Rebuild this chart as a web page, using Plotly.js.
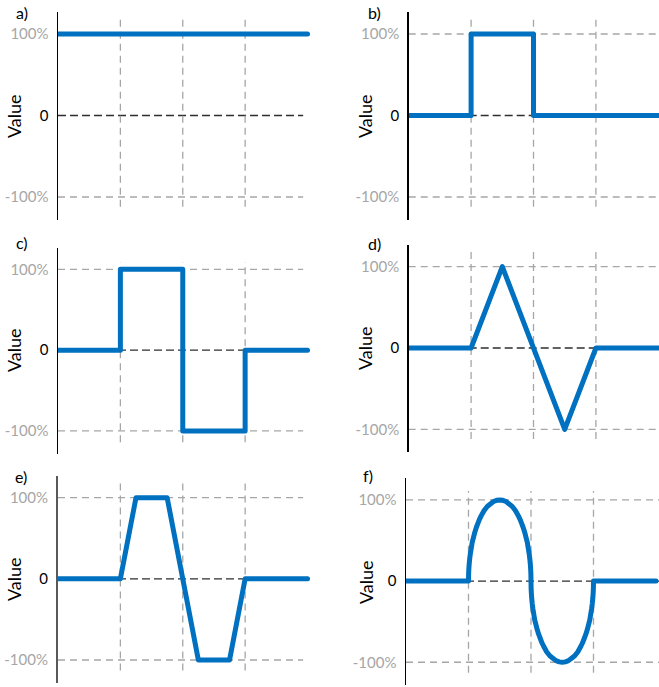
<!DOCTYPE html>
<html>
<head>
<meta charset="utf-8">
<script src="https://cdn.plot.ly/plotly-3.0.1.min.js"></script>
<style>
html,body{margin:0;padding:0;background:#fff;}
#chart{width:659px;height:687px;}
path.js-line{stroke-linejoin:round !important;stroke-linecap:round !important;}
</style>
</head>
<body>
<div id="chart"></div>
<script>
// ---- Data ----
const panelLabels = ["a)", "b)", "c)", "d)", "e)", "f)"];
const yTickVals = [-100, 0, 100];
const yTickText = ["-100%", "0", "100%"];
const axisTitle = "Value";
const gridX = [1, 2, 3];

const aX = [0, 4];
const aY = [100, 100];

const bX = [0, 1, 1, 2, 2, 4];
const bY = [0, 0, 100, 100, 0, 0];

const cX = [0, 1, 1, 2, 2, 3, 3, 4];
const cY = [0, 0, 100, 100, -100, -100, 0, 0];

const dX = [0, 1, 1.5, 2.5, 3, 4];
const dY = [0, 0, 100, -100, 0, 0];

const eX = [0, 1, 1.25, 1.75, 2.25, 2.75, 3, 4];
const eY = [0, 0, 100, 100, -100, -100, 0, 0];

const fX = [0,
  1, 1.002, 1.005, 1.01, 1.02, 1.03, 1.045, 1.06, 1.08, 1.1,
  1.125, 1.15, 1.175, 1.2, 1.25, 1.3, 1.35, 1.4, 1.45, 1.5,
  1.55, 1.6, 1.65, 1.7, 1.75, 1.8, 1.825, 1.85, 1.875, 1.9,
  1.92, 1.94, 1.955, 1.97, 1.98, 1.99, 1.995, 1.998, 2,
  2.002, 2.005, 2.01, 2.02, 2.03, 2.045, 2.06, 2.08, 2.1,
  2.125, 2.15, 2.175, 2.2, 2.25, 2.3, 2.35, 2.4, 2.45, 2.5,
  2.55, 2.6, 2.65, 2.7, 2.75, 2.8, 2.825, 2.85, 2.875, 2.9,
  2.92, 2.94, 2.955, 2.97, 2.98, 2.99, 2.995, 2.998, 3,
  4];
const fY = [0,
  0, 9, 14, 20, 28, 34, 41, 48, 54, 60,
  66, 71, 76, 80, 87, 92, 95, 98, 99.5, 100,
  99.5, 98, 95, 92, 87, 80, 76, 71, 66, 60,
  54, 48, 41, 34, 28, 20, 14, 9, 0,
  -9, -14, -20, -28, -34, -41, -48, -54, -60,
  -66, -71, -76, -80, -87, -92, -95, -98, -99.5, -100,
  -99.5, -98, -95, -92, -87, -80, -76, -71, -66, -60,
  -54, -48, -41, -34, -28, -20, -14, -9, 0,
  0];

const seriesX = [aX, bX, cX, dX, eX, fX];
const seriesY = [aY, bY, cY, dY, eY, fY];

// ---- Layout geometry (pixels) ----
const W = 659, H = 687;
const panels = [
  {ax: 58,    right: 320, xmax: 4.2,   hEnd: 3.93,  yTop: 12,    yBot: 219.8, vTop: 118, vBot: -112, title: [14, 116],  lab: [22.5, 13],  line: "#000000", lw: 1.5},
  {ax: 408.7, right: 659, xmax: 4.011, hEnd: 4.011, yTop: 12,    yBot: 219.8, vTop: 118, vBot: -112, title: [365, 116], lab: [374, 13],   line: "#000000", lw: 1.5},
  {ax: 58,    right: 320, xmax: 4.2,   hEnd: 3.93,  yTop: 247.5, yBot: 453.6, vTop: 109, vBot: -114, title: [14, 350],  lab: [22.5, 242], line: "#000000", lw: 1.5},
  {ax: 408.7, right: 659, xmax: 4.011, hEnd: 4.011, yTop: 244.7, yBot: 452.1, vTop: 118, vBot: -112, title: [365, 348], lab: [374, 244],  line: "#000000", lw: 1.5},
  {ax: 58,    right: 320, xmax: 4.2,   hEnd: 3.93,  yTop: 475.8, yBot: 682.7, vTop: 118, vBot: -113, title: [14, 579],  lab: [21, 476],   line: "#595959", lw: 2},
  {ax: 406,   right: 659, xmax: 4.048, hEnd: 4.048, yTop: 478,   yBot: 685,   vTop: 111, vBot: -113, title: [366, 582], lab: [367.5, 475], line: "#000000", lw: 1.5}
];

const blue = "#0070C0";
const gridGray = "#A6A6A6";
const zeroCol = "#2E2E2E";
const fontFam = "Lato, 'Open Sans', 'DejaVu Sans', sans-serif";

const tickTextStyled = yTickText.map(t => t === "0"
  ? '<span style="color:#000000">' + t + '</span>'
  : '<span style="color:#A6A6A6">' + t + '</span>');

const data = [];
const layout = {
  width: W, height: H,
  margin: {l: 0, r: 0, t: 0, b: 0, pad: 0},
  paper_bgcolor: "#ffffff",
  plot_bgcolor: "rgba(0,0,0,0)",
  showlegend: false,
  shapes: [],
  annotations: []
};

panels.forEach((p, i) => {
  const n = i + 1;
  const xa = "x" + (n === 1 ? "" : n);
  const ya = "y" + (n === 1 ? "" : n);
  const xKey = "xaxis" + (n === 1 ? "" : n);
  const yKey = "yaxis" + (n === 1 ? "" : n);

  layout[xKey] = {
    domain: [p.ax / W, p.right / W],
    range: [0, p.xmax],
    anchor: ya,
    showgrid: false, zeroline: false, showline: false,
    showticklabels: false, ticks: "", fixedrange: true
  };
  layout[yKey] = {
    domain: [1 - p.yBot / H, 1 - p.yTop / H],
    range: [-128, 127],
    anchor: xa,
    showgrid: false, zeroline: false,
    showline: true, linecolor: p.line, linewidth: p.lw,
    tickmode: "array", tickvals: yTickVals, ticktext: tickTextStyled,
    ticks: "outside", ticklen: 5, tickcolor: "rgba(0,0,0,0)",
    tickfont: {family: fontFam, size: 15, color: "#A6A6A6"},
    fixedrange: true
  };

  // horizontal reference lines
  [100, -100].forEach(v => {
    layout.shapes.push({type: "line", xref: xa, yref: ya, x0: 0, x1: p.hEnd, y0: v, y1: v,
      layer: "below", line: {color: gridGray, width: 1.3, dash: "7px,5px"}});
  });
  layout.shapes.push({type: "line", xref: xa, yref: ya, x0: 0, x1: p.hEnd, y0: 0, y1: 0,
    layer: "below", line: {color: zeroCol, width: 1.3, dash: "8px,4px"}});
  // vertical reference lines
  gridX.forEach(gx => {
    layout.shapes.push({type: "line", xref: xa, yref: ya, x0: gx, x1: gx, y0: p.vBot, y1: p.vTop,
      layer: "below", line: {color: gridGray, width: 1.3, dash: "7px,5px"}});
  });

  data.push({
    type: "scatter", mode: "lines",
    x: seriesX[i], y: seriesY[i],
    xaxis: xa, yaxis: ya,
    line: {color: blue, width: 5, simplify: false},
    hoverinfo: "skip"
  });

  layout.annotations.push({
    xref: "paper", yref: "paper",
    x: p.title[0] / W, y: 1 - p.title[1] / H,
    xanchor: "center", yanchor: "middle",
    text: axisTitle, textangle: -90, showarrow: false,
    font: {family: fontFam, size: 18, color: "#000000"}
  });
  layout.annotations.push({
    xref: "paper", yref: "paper",
    x: p.lab[0] / W, y: 1 - p.lab[1] / H,
    xanchor: "center", yanchor: "middle",
    text: panelLabels[i], showarrow: false,
    font: {family: fontFam, size: 16, color: "#000000"}
  });
});

Plotly.newPlot("chart", data, layout, {staticPlot: true, displayModeBar: false});
</script>
</body>
</html>
